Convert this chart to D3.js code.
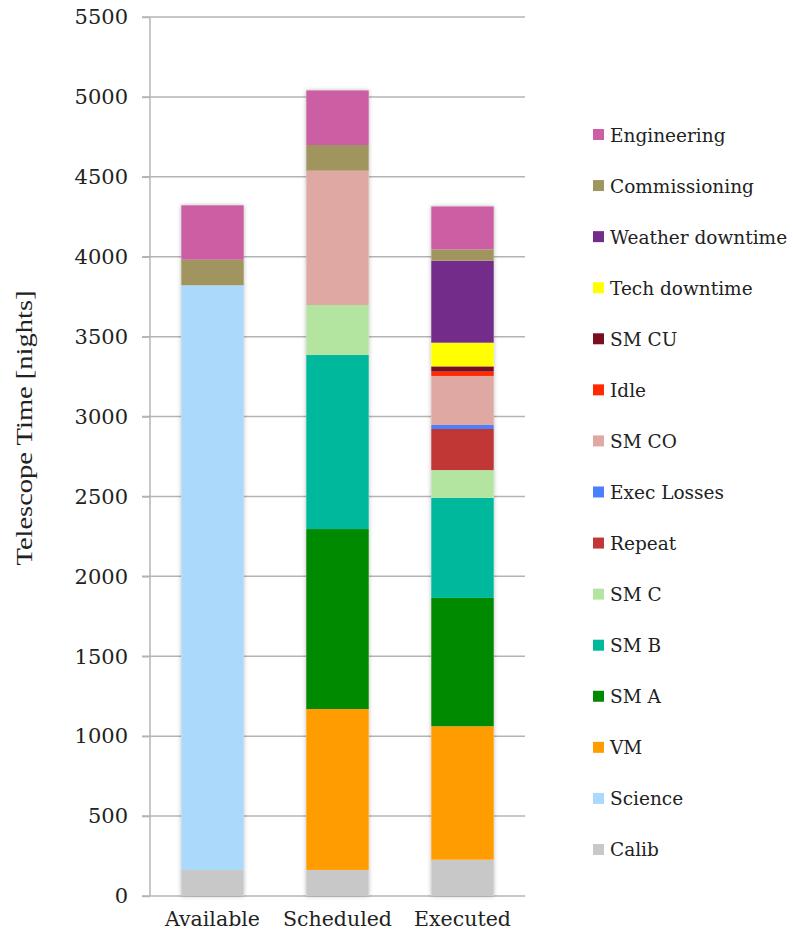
<!DOCTYPE html>
<html><head><meta charset="utf-8">
<script src="https://cdn.jsdelivr.net/npm/d3@7"></script>
<style>body{margin:0;background:#fff}svg{display:block}</style>
</head><body><svg id="c" width="793" height="935"></svg>
<script>
const categories = ["Available", "Scheduled", "Executed"];
const seriesNames = ["Calib","Science","VM","SM A","SM B","SM C","Repeat","Exec Losses","SM CO","Idle","SM CU","Tech downtime","Weather downtime","Commissioning","Engineering"];
const seriesColors = ["#c8c8c8","#aad9fc","#ff9d00","#008a00","#00b99d","#b3e4a0","#c13735","#4a7fff","#dfa8a3","#ff2a00","#7a0e1e","#ffff00","#742c8a","#a0955f","#cc5fa3"];
// values per series: [Available, Scheduled, Executed]
const Calib = [163, 163, 227];
const Science = [3658, 0, 0];
const VM = [0, 1007, 835];
const SMA = [0, 1126, 803];
const SMB = [0, 1089, 627];
const SMC = [0, 313, 173];
const Repeat = [0, 0, 257];
const ExecLosses = [0, 0, 25];
const SMCO = [0, 840, 307];
const Idle = [0, 0, 27];
const SMCU = [0, 0, 33];
const TechDowntime = [0, 0, 148];
const WeatherDowntime = [0, 0, 513];
const Commissioning = [160, 161, 71];
const Engineering = [341, 342, 269];
const yTicks = [0,500,1000,1500,2000,2500,3000,3500,4000,4500,5000,5500];

const seriesValues = [Calib,Science,VM,SMA,SMB,SMC,Repeat,ExecLosses,SMCO,Idle,SMCU,TechDowntime,WeatherDowntime,Commissioning,Engineering];
const table = categories.map((c,i)=>{const o={cat:c}; seriesNames.forEach((s,j)=>o[s]=seriesValues[j][i]); return o;});

const svg = d3.select("#c");
const x0 = 150, x1 = 525, yTop = 17, yBot = 896;
const x = d3.scaleBand().domain(categories).range([x0,x1]).paddingInner(0.5).paddingOuter(0.25);
const y = d3.scaleLinear().domain([0,5500]).range([yBot,yTop]);
const color = d3.scaleOrdinal().domain(seriesNames).range(seriesColors);

const defs = svg.append("defs");
const f = defs.append("filter").attr("id","sh").attr("x","-20%").attr("y","-5%").attr("width","140%").attr("height","110%");
f.append("feDropShadow").attr("dx",0).attr("dy",0).attr("stdDeviation",2.2).attr("flood-color","#000").attr("flood-opacity",0.28);

// gridlines
svg.append("g").selectAll("line").data(yTicks).join("line")
  .attr("x1",x0-8).attr("x2",x1).attr("y1",d=>y(d)).attr("y2",d=>y(d))
  .attr("stroke","#b4b4b4").attr("stroke-width",1.5);
// axis
const ax = svg.append("g").attr("transform",`translate(${x0},0)`)
  .call(d3.axisLeft(y).tickValues(yTicks).tickSize(8).tickPadding(14).tickFormat(d3.format("d")));
ax.select(".domain").attr("stroke","#b4b4b4").attr("stroke-width",1.5).attr("d",`M0,${yTop}V${yBot}`);
ax.selectAll(".tick line").attr("stroke","#b4b4b4").attr("stroke-width",1.5);
ax.selectAll(".tick text").attr("font-family","DejaVu Serif").attr("font-size",21).attr("fill","#222");

// stacked bars
const stack = d3.stack().keys(seriesNames)(table);
const barsG = svg.append("g");
barsG.selectAll("rect.sh").data(categories).join("rect").attr("class","sh")
  .attr("x",d=>x(d)).attr("width",x.bandwidth())
  .attr("y",(d,i)=>y(d3.sum(seriesValues,s=>s[i]))).attr("height",(d,i)=>yBot-y(d3.sum(seriesValues,s=>s[i])))
  .attr("fill","#fff").attr("filter","url(#sh)");
barsG.selectAll("g.s").data(stack).join("g").attr("class","s").attr("fill",d=>color(d.key))
  .selectAll("rect").data(d=>d).join("rect")
  .attr("x",d=>x(d.data.cat)).attr("width",x.bandwidth())
  .attr("y",d=>y(d[1])).attr("height",d=>Math.max(0,y(d[0])-y(d[1])));

// x labels
svg.append("g").selectAll("text").data(categories).join("text")
  .attr("x",d=>x(d)+x.bandwidth()/2).attr("y",926).attr("text-anchor","middle")
  .attr("font-family","DejaVu Serif").attr("font-size",20.5).attr("fill","#222").text(d=>d);

// y title
svg.append("text").attr("transform","translate(32,428) rotate(-90)").attr("text-anchor","middle")
  .attr("font-family","Liberation Serif").attr("font-size",23).attr("fill","#222")
  .attr("textLength",275).attr("lengthAdjust","spacingAndGlyphs").text("Telescope Time [nights]");

// legend
const legNames = seriesNames.slice().reverse();
const lg = svg.append("g").selectAll("g").data(legNames).join("g")
  .attr("transform",(d,i)=>`translate(593,${135+i*51.07})`);
lg.append("rect").attr("x",0).attr("y",-6).attr("width",11).attr("height",11).attr("fill",d=>color(d));
lg.append("text").attr("x",17).attr("y",6.5).attr("font-family","DejaVu Serif").attr("font-size",18.5).attr("fill","#222").text(d=>d);
</script></body></html>
